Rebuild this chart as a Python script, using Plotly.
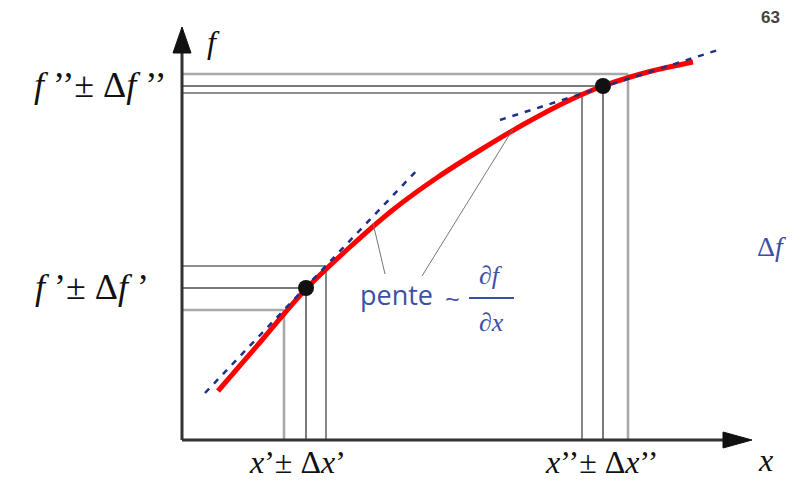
import plotly.graph_objects as go

# ---- data (units: x along abscissa, f along ordinate) ----
curve_x = [36, 80, 124, 168, 212, 256, 300, 344, 388, 421, 466, 511]
curve_f = [49, 100, 151, 193, 231, 263, 291, 317, 340, 354, 368, 378]

tan1_x = [23, 238]
tan1_f = [47, 273]
tan2_x = [318, 536]
tan2_f = [320, 390]

# points with uncertainty: (x-, x, x+), (f-, f, f+)
p1_x = [102, 124, 144]
p1_f = [130, 152, 174]
p2_x = [400, 421, 446]
p2_f = [347, 354, 366]

x_max = 570
f_max = 413

fig = go.Figure()

AX = "#333333"
BLUE = "#3d50a8"
guide_col = ["#a8a8a8", "#7a7a7a", "#6a6a6a"]
guide_w = [2.6, 2.0, 1.6]
guide_col2 = ["#6a6a6a", "#7a7a7a", "#a8a8a8"]
guide_w2 = [1.6, 2.0, 2.6]

shapes = []
for xs, fs, cols, ws in [(p1_x, p1_f, guide_col, guide_w), (p2_x, p2_f, guide_col2, guide_w2)]:
    for xv, fv, c, w in zip(xs, fs, cols, ws):
        shapes.append(dict(type="line", x0=0, y0=fv, x1=xv, y1=fv, line=dict(color=c, width=w), layer="below"))
        shapes.append(dict(type="line", x0=xv, y0=0, x1=xv, y1=fv, line=dict(color=c, width=w), layer="below"))

# axes
shapes.append(dict(type="line", x0=0, y0=0, x1=x_max - 29, y1=0, line=dict(color=AX, width=3)))
shapes.append(dict(type="line", x0=0, y0=0, x1=0, y1=f_max - 26, line=dict(color=AX, width=3)))
shapes.append(dict(type="path", path=f"M {x_max},0 L {x_max-29},8 L {x_max-29},-8 Z",
                   fillcolor="#111", line=dict(color="#111", width=1)))
shapes.append(dict(type="path", path=f"M 0,{f_max} L -9,{f_max-26} L 9,{f_max-26} Z",
                   fillcolor="#111", line=dict(color="#111", width=1)))

# pointer lines
shapes.append(dict(type="line", x0=191, y0=217, x1=203, y1=166, line=dict(color="#777", width=1)))
shapes.append(dict(type="line", x0=331, y0=311, x1=240, y1=164, line=dict(color="#777", width=1)))
# fraction bar
shapes.append(dict(type="line", x0=287, y0=142, x1=332, y1=142, line=dict(color=BLUE, width=2)))

fig.add_trace(go.Scatter(x=curve_x, y=curve_f, mode="lines", line=dict(color="#ff0000", width=5, shape="spline"),
                         hoverinfo="skip"))
fig.add_trace(go.Scatter(x=tan1_x, y=tan1_f, mode="lines", line=dict(color="#1f2f8a", width=2.5, dash="6px,7px"),
                         hoverinfo="skip"))
fig.add_trace(go.Scatter(x=tan2_x, y=tan2_f, mode="lines", line=dict(color="#1f2f8a", width=2.5, dash="6px,7px"),
                         hoverinfo="skip"))
fig.add_trace(go.Scatter(x=[p1_x[1], p2_x[1]], y=[p1_f[1], p2_f[1]], mode="markers",
                         marker=dict(color="#111", size=16), hoverinfo="skip"))

SERIF = "Liberation Serif"
ann = []
def A(x, y, text, size, color="#111", family=SERIF, xanchor="center", yanchor="middle"):
    ann.append(dict(x=x, y=y, text=text, showarrow=False, xanchor=xanchor, yanchor=yanchor,
                    font=dict(family=family, size=size, color=color)))

A(31, 398, "<i>f</i>", 32)
A(-13, 355, "<i>f</i> ’’± Δ<i>f</i> ’’", 36, xanchor="right")
A(-31, 153, "<i>f</i> ’± Δ<i>f</i> ’", 36, xanchor="right")
A(115, -22, "<i>x</i>’± Δ<i>x</i>’", 32)
A(419, -22, "<i>x</i>’’± Δ<i>x</i>’’", 32)
A(583, -20, "<i>x</i>", 32)
A(589, 194, "Δ<i>f</i>", 28, color=BLUE)
A(588, 423, "<b>63</b>", 17, color="#444", family="Liberation Sans")
A(214, 146, "pente", 27, color=BLUE, family="Open Sans")
A(270, 142, "~", 26, color=BLUE, family="Open Sans")
A(309, 165, "∂<i>f</i>", 26, color=BLUE)
A(309, 118, "∂<i>x</i>", 26, color=BLUE)

fig.update_layout(
    width=805, height=482, margin=dict(l=0, r=0, t=0, b=0),
    paper_bgcolor="white", plot_bgcolor="white", showlegend=False,
    xaxis=dict(range=[-182, 623], visible=False, fixedrange=True),
    yaxis=dict(range=[-42, 440], visible=False, fixedrange=True),
    shapes=shapes, annotations=ann,
)

fig.write_html("out.html", config={"displayModeBar": False},
               post_script="document.body.style.margin='0px';document.body.style.overflow='hidden';")
